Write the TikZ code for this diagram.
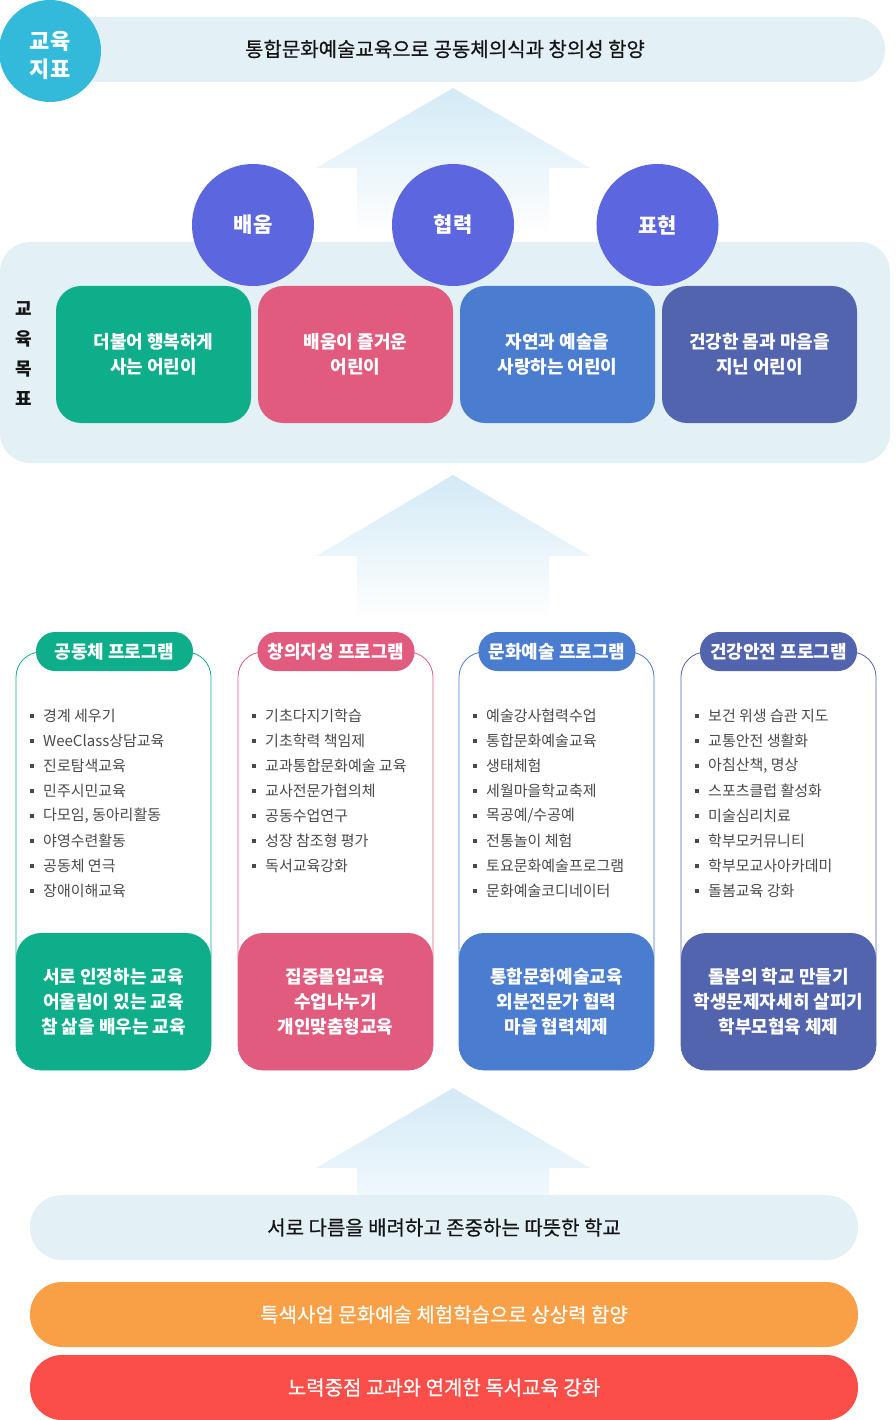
\documentclass[tikz,border=0pt]{standalone}
\usepackage{fontspec}
\setmainfont{Noto Sans CJK KR}
\newfontfamily\krmed{Noto Sans CJK KR}[FakeBold=0.5]
\definecolor{lightbar}{HTML}{E3F1F7}
\definecolor{arw}{HTML}{D3EAF6}
\definecolor{ccyan}{HTML}{33BADB}
\definecolor{cpurple}{HTML}{5C66DE}
\definecolor{cgreen}{HTML}{0FAE8A}
\definecolor{cpink}{HTML}{E05B7D}
\definecolor{cblue}{HTML}{4A7CD0}
\definecolor{cindigo}{HTML}{5264AE}
\definecolor{corange}{HTML}{F99F45}
\definecolor{cred}{HTML}{FC4E48}
\definecolor{ctext}{HTML}{4A4A4A}
\definecolor{cdark}{HTML}{151515}
\newcommand\plist[3]{%
  \foreach \t [count=\i] in {#3} {
    \node[bul] (#1b\i) at ({#2+16}, {716+25*(\i-1)}) {};
    \node[item] (#1i\i) at ({#2+27}, {716+25*(\i-1)}) {\t};
  }}
\begin{document}
\begin{tikzpicture}[x=1pt,y=-1pt,
  bar/.style={rounded corners=32pt, minimum width=828pt, minimum height=65pt, inner sep=0pt, font=\krmed\fontsize{20}{24}\selectfont},
  circ/.style={circle, inner sep=0pt, minimum size=122pt, fill=cpurple, text=white, font=\bfseries\fontsize{21}{24}\selectfont},
  card/.style={rounded corners=25pt, minimum width=195pt, minimum height=137pt, inner sep=0pt, text=white, align=center, font=\bfseries\fontsize{18}{25}\selectfont},
  pbox/.style={rounded corners=25pt, minimum width=195pt, minimum height=418pt, inner sep=0pt, fill=white, line width=0.8pt},
  pbot/.style={rounded corners=25pt, minimum width=195pt, minimum height=137pt, inner sep=0pt, text=white, align=center, font=\bfseries\fontsize{18}{25}\selectfont},
  tab/.style={rounded corners=19pt, minimum width=157pt, minimum height=39pt, inner sep=0pt, text=white, font=\bfseries\fontsize{18}{20}\selectfont},
  bul/.style={rectangle, fill=ctext, minimum size=3.5pt, inner sep=0pt},
  item/.style={anchor=west, inner sep=0pt, text=ctext, font=\fontsize{15}{17}\selectfont},
]
\useasboundingbox (0,0) rectangle (895,1420);
% arrows
\shade[top color=arw, bottom color=white] (453,88) -- (590,168) -- (549,168) -- (549,235) -- (357,235) -- (357,168) -- (316,168) -- cycle;
\shade[top color=arw, bottom color=white] (453,475) -- (590,556) -- (549,556) -- (549,620) -- (357,620) -- (357,556) -- (316,556) -- cycle;
\shade[top color=arw, bottom color=white!70!arw] (453,1088) -- (590,1168) -- (549,1168) -- (549,1200) -- (357,1200) -- (357,1168) -- (316,1168) -- cycle;
% top goal
\node[bar, fill=lightbar, minimum width=825pt] (goal) at (472.5,49.5) {};
\node[text=cdark, font=\krmed\fontsize{20}{24}\selectfont, inner sep=0pt] (goaltxt) at (445,49) {통합문화예술교육으로 공동체의식과 창의성 함양};
\node[circle, fill=ccyan, minimum size=102pt, inner sep=0pt, text=white, align=center, font=\bfseries\fontsize{22}{28}\selectfont] (gcirc) at (50,51) {};
\node[align=center, inner sep=0pt, text=white, font=\bfseries\fontsize{22}{28}\selectfont] (gtxt) at (50,55) {교육\\지표};
% panel
\node[rounded corners=30pt, fill=lightbar, minimum width=890pt, minimum height=221pt, inner sep=0pt] (panel) at (445,352.5) {};
\node[align=center, inner sep=0pt, text=cdark, font=\bfseries\fontsize{18}{30}\selectfont] (vlabel) at (24,354) {교\\육\\목\\표};
\node[circ] (c1) at (253,225) {배움};
\node[circ] (c2) at (453,225) {협력};
\node[circ] (c3) at (657.5,225) {표현};
\node[card, fill=cgreen] (k1) at (153.5,354.5) {더불어 행복하게\\사는 어린이};
\node[card, fill=cpink] (k2) at (355.5,354.5) {배움이 즐거운\\어린이};
\node[card, fill=cblue] (k3) at (557.5,354.5) {자연과 예술을\\사랑하는 어린이};
\node[card, fill=cindigo] (k4) at (759.5,354.5) {건강한 몸과 마음을\\지닌 어린이};
% program columns
\node[pbox, draw=cgreen] (p1) at (113.5,861) {};
\node[pbox, draw=cpink] (p2) at (335.5,861) {};
\node[pbox, draw=cblue] (p3) at (556.5,861) {};
\node[pbox, draw=cindigo] (p4) at (778.5,861) {};
\node[pbot, fill=cgreen] (q1) at (113.5,1001.5) {서로 인정하는 교육\\어울림이 있는 교육\\참 삶을 배우는 교육};
\node[pbot, fill=cpink] (q2) at (335.5,1001.5) {집중몰입교육\\수업나누기\\개인맞춤형교육};
\node[pbot, fill=cblue] (q3) at (556.5,1001.5) {통합문화예술교육\\외분전문가 협력\\마을 협력체제};
\node[pbot, fill=cindigo] (q4) at (778.5,1001.5) {돌봄의 학교 만들기\\학생문제자세히 살피기\\학부모협육 체제};
\node[tab, fill=cgreen] (t1) at (114.5,651.5) {공동체 프로그램};
\node[tab, fill=cpink] (t2) at (336,651.5) {창의지성 프로그램};
\node[tab, fill=cblue] (t3) at (557,651.5) {문화예술 프로그램};
\node[tab, fill=cindigo] (t4) at (778.5,651.5) {건강안전 프로그램};
\plist{a}{16}{경계 세우기, WeeClass상담교육, 진로탐색교육, 민주시민교육, {다모임, 동아리활동}, 야영수련활동, 공동체 연극, 장애이해교육}
\plist{b}{238}{기초다지기학습, 기초학력 책임제, 교과통합문화예술 교육, 교사전문가협의체, 공동수업연구, 성장 참조형 평가, 독서교육강화}
\plist{c}{459}{예술강사협력수업, 통합문화예술교육, 생태체험, 세월마을학교축제, 목공예/수공예, 전통놀이 체험, 토요문화예술프로그램, 문화예술코디네이터}
\plist{d}{681}{보건 위생 습관 지도, 교통안전 생활화, {아침산책, 명상}, 스포츠클럽 활성화, 미술심리치료, 학부모커뮤니티, 학부모교사아카데미, 돌봄교육 강화}
% bottom bars
\node[bar, fill=lightbar, text=cdark] (s1) at (444,1227.5) {서로 다름을 배려하고 존중하는 따뜻한 학교};
\node[bar, fill=corange, text=white] (s2) at (444,1314.5) {특색사업 문화예술 체험학습으로 상상력 함양};
\node[bar, fill=cred, text=white] (s3) at (444,1387.5) {노력중점 교과와 연계한 독서교육 강화};
\end{tikzpicture}
\end{document}
